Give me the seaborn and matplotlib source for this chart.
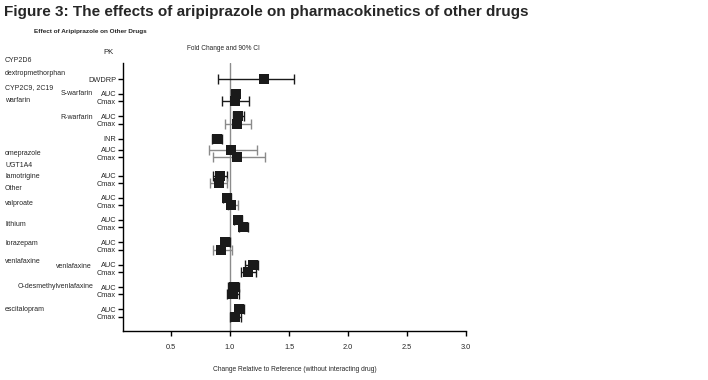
import numpy as np
import pandas as pd
import matplotlib
matplotlib.use("Agg")
import matplotlib.pyplot as plt
import seaborn as sns

# ---- data ----
pk_labels = ["DWDRP", "AUC", "Cmax", "AUC", "Cmax", "INR", "AUC", "Cmax",
             "AUC", "Cmax", "AUC", "Cmax", "AUC", "Cmax", "AUC", "Cmax",
             "AUC", "Cmax", "AUC", "Cmax", "AUC", "Cmax"]
fold_change = [1.29, 1.05, 1.04, 1.07, 1.06, 0.89, 1.005, 1.06,
               0.915, 0.905, 0.977, 1.01, 1.07, 1.11, 0.958, 0.92,
               1.195, 1.15, 1.035, 1.025, 1.08, 1.045]
ci_low = [0.896, 1.01, 0.93, 1.025, 0.955, 0.85, 0.82, 0.86,
          0.86, 0.83, 0.94, 0.98, 1.03, 1.08, 0.92, 0.853,
          1.13, 1.09, 0.986, 0.975, 1.045, 1.00]
ci_high = [1.54, 1.08, 1.16, 1.12, 1.18, 0.93, 1.23, 1.30,
           0.975, 0.975, 1.01, 1.07, 1.10, 1.15, 1.00, 1.02,
           1.24, 1.22, 1.08, 1.08, 1.115, 1.09]
# spacing before each row (row units), gives paired AUC/Cmax rows
row_gap = [0, 2, 1, 2, 1, 2, 1.5, 1, 2.5, 1, 1.9, 1, 2, 1, 2, 1, 2, 1, 2, 1, 2, 1]
bar_grey = [0, 0, 0, 0, 1, 0, 1, 1, 0, 1, 0, 1, 0, 0, 0, 1, 0, 0, 0, 0, 0, 0]

x_ticks = [0.5, 1.0, 1.5, 2.0, 2.5, 3.0]

# left side annotations: (text, row position, x pixel, ha)
drug_labels = [
    ("CYP2D6", -2.55, 5, "left"),
    ("dextropmethorphan", -0.8, 5, "left"),
    ("CYP2C9, 2C19", 1.1, 5, "left"),
    ("warfarin", 2.95, 5, "left"),
    ("S-warfarin", 2.0, 93, "right"),
    ("R-warfarin", 5.2, 93, "right"),
    ("omeprazole", 10.0, 5, "left"),
    ("UGT1A4", 11.6, 5, "left"),
    ("lamotrigine", 13.1, 5, "left"),
    ("Other", 14.7, 5, "left"),
    ("valproate", 16.7, 5, "left"),
    ("lithium", 19.5, 5, "left"),
    ("lorazepam", 22.1, 5, "left"),
    ("venlafaxine", 24.5, 5, "left"),
    ("venlafaxine", 25.2, 92, "right"),
    ("O-desmethylvenlafaxine", 27.9, 93, "right"),
    ("escitalopram", 31.0, 5, "left"),
]

# =====================================================
# PLOT
# =====================================================

sns.set_style("white")
plt.rcParams["font.family"] = ["Liberation Sans", "DejaVu Sans"]

df = pd.DataFrame({"pk": pk_labels, "fc": fold_change, "lo": ci_low, "hi": ci_high,
                   "row": np.cumsum(row_gap), "grey": bar_grey})

W, H = 708, 380
fig = plt.figure(figsize=(W / 100, H / 100), dpi=100)
ax = fig.add_axes([123 / W, 1 - 331 / H, (466 - 123) / W, (331 - 63) / H])

ax.axvline(1.0, color="#8c8c8c", lw=1, zorder=1)

for _, r in df.iterrows():
    col = "#8a8a8a" if r["grey"] else "#1a1a1a"
    ax.errorbar(r["fc"], r["row"], xerr=[[r["fc"] - r["lo"]], [r["hi"] - r["fc"]]],
                fmt="none", ecolor=col, elinewidth=1, capsize=3.6, capthick=1, zorder=2)

sns.scatterplot(data=df, x="fc", y="row", marker="s", s=50, color="#1a1a1a",
                edgecolor="#1a1a1a", linewidth=0, ax=ax, zorder=3, legend=False)

ax.set_xlim(0.093, 3.0)
ax.set_ylim(33.8, -2.15)
ax.set_xticks(x_ticks)
ax.set_xticklabels([f"{t:.1f}" for t in x_ticks], fontsize=5.3)
ax.set_yticks(df["row"])
ax.set_yticklabels(df["pk"], fontsize=5.3)
ax.tick_params(axis="both", direction="out", length=3.5, width=1, color="black",
               left=True, bottom=True, pad=1.5)
ax.tick_params(axis="x", pad=6)
ax.set_xlabel("Change Relative to Reference (without interacting drug)", fontsize=4.8, labelpad=10.5)
ax.set_ylabel("")
for s in ["top", "right"]:
    ax.spines[s].set_visible(False)
for s in ["left", "bottom"]:
    ax.spines[s].set_color("black")
    ax.spines[s].set_linewidth(1)

# row units -> figure pixels for the side labels
def row_to_fig(row):
    return 1 - (79 + row * 7.45) / H

for txt, row, xp, ha in drug_labels:
    fig.text(xp / W, row_to_fig(row), txt, ha=ha, va="center", fontsize=5.0)

fig.text(114 / W, 1 - 53 / H, "PK", ha="right", va="center", fontsize=5.5)
fig.text(223 / W, 1 - 49 / H, "Fold Change and 90% CI", ha="center", va="center", fontsize=4.7)
fig.text(34 / W, 1 - 31 / H, "Effect of Aripiprazole on Other Drugs", ha="left", va="center",
         fontsize=4.6, fontweight="bold")
fig.text(4 / W, 1 - 12 / H, "Figure 3: The effects of aripiprazole on pharmacokinetics of other drugs",
         ha="left", va="center", fontsize=11, fontweight="bold")

fig.savefig("out.png", dpi=100)
